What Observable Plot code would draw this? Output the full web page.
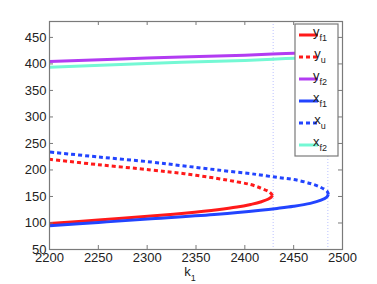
<!DOCTYPE html>
<html><head><meta charset="utf-8">
<script src="https://cdn.jsdelivr.net/npm/d3@7"></script>
<script src="https://cdn.jsdelivr.net/npm/@observablehq/plot@0.6"></script>
<style>body{margin:0;background:#fff}</style>
</head><body><div id="chart"></div>
<script>
const xTicks = [2200, 2250, 2300, 2350, 2400, 2450, 2500];
const yTicks = [50, 100, 150, 200, 250, 300, 350, 400, 450];
const foldK = [2429, 2485];

const yf1K = [2200, 2250, 2304, 2338, 2372, 2392, 2406, 2416, 2425, 2428.5];
const yf1V = [99, 105.5, 113, 118.5, 125, 130, 135, 139.5, 146, 152];
const yuK = [2428.5, 2425, 2416, 2406, 2392, 2372, 2338, 2304, 2250, 2200];
const yuV = [152, 158.5, 166, 172.5, 177.5, 184, 193, 200, 210, 220];
const yf2K = [2200, 2300, 2400, 2442, 2485];
const yf2V = [404.5, 411, 416.5, 419.5, 422];
const xf1K = [2200, 2250, 2304, 2372, 2416, 2433, 2450, 2467, 2478, 2484, 2485.5];
const xf1V = [95, 101, 108, 116.5, 124, 127.5, 131.5, 137, 143, 149, 154];
const xuK = [2485.5, 2484.5, 2478, 2467, 2450, 2433, 2416, 2406, 2372, 2338, 2304, 2250, 2200];
const xuV = [154, 159, 167, 174.5, 182, 186, 190.5, 193, 200, 207.5, 215, 224.5, 234];
const xf2K = [2200, 2300, 2400, 2442, 2485];
const xf2V = [393.5, 401, 406.5, 410, 413];

const series = [
  {main: "y", sub: "f1", k: yf1K, v: yf1V, color: "#ff1a1a", dash: null},
  {main: "y", sub: "u", k: yuK, v: yuV, color: "#ff1a1a", dash: "4,3"},
  {main: "y", sub: "f2", k: yf2K, v: yf2V, color: "#b23cf2", dash: null},
  {main: "x", sub: "f1", k: xf1K, v: xf1V, color: "#2244ff", dash: null},
  {main: "x", sub: "u", k: xuK, v: xuV, color: "#2244ff", dash: "4,3"},
  {main: "x", sub: "f2", k: xf2K, v: xf2V, color: "#74f8d4", dash: null}
];

const font = "'Liberation Sans', Arial, Helvetica, sans-serif";
const lineMarks = series.map(s => Plot.line(s.k.map((k, i) => ({k, v: s.v[i]})), {
  x: "k", y: "v", stroke: s.color, strokeWidth: 3, strokeDasharray: s.dash,
  strokeLinecap: "butt", curve: "catmull-rom"
}));

const plot = Plot.plot({
  width: 377, height: 284,
  marginLeft: 49, marginRight: 35, marginTop: 21, marginBottom: 35,
  style: {fontFamily: font, fontSize: "13px", color: "#222", background: "#fff"},
  x: {domain: [2200, 2500]},
  y: {domain: [50, 480]},
  marks: [
    Plot.ruleX(foldK, {stroke: "#aab3ff", strokeWidth: 0.8, strokeDasharray: "1,2"}),
    ...lineMarks,
    Plot.frame({stroke: "#7a7a7a", strokeWidth: 1.2}),
    Plot.ruleX(xTicks, {x: d => d, y1: 50, y2: 50, insetTop: -4, stroke: "#7a7a7a"}),
    Plot.ruleX(xTicks, {x: d => d, y1: 480, y2: 480, insetBottom: -4, stroke: "#7a7a7a"}),
    Plot.ruleY(yTicks, {y: d => d, x1: 2200, x2: 2200, insetRight: -4, stroke: "#7a7a7a"}),
    Plot.ruleY(yTicks, {y: d => d, x1: 2500, x2: 2500, insetLeft: -4, stroke: "#7a7a7a"}),
    Plot.axisX({ticks: xTicks, tickSize: 0, tickPadding: 3, tickFormat: d => String(d), label: null, fontSize: 13}),
    Plot.axisY({ticks: yTicks, tickSize: 0, tickPadding: 3, tickFormat: d => String(d), label: null, fontSize: 13})
  ]
});
document.getElementById("chart").appendChild(plot);

const svg = d3.select(plot);
// x-axis label k1
const xl = svg.append("text").attr("x", 190).attr("y", 276)
  .attr("font-family", font).attr("font-size", 13).attr("fill", "#222");
xl.append("tspan").text("k");
xl.append("tspan").attr("font-size", 9).attr("dy", 5).text("1");

// legend
const lg = svg.append("g");
lg.append("rect").attr("x", 295).attr("y", 24).attr("width", 43).attr("height", 132)
  .attr("fill", "#fff").attr("stroke", "#7a7a7a").attr("stroke-width", 1.2);
const rowY = [35, 57, 79, 101, 123, 145];
series.forEach((s, i) => {
  const y = rowY[i];
  lg.append("line").attr("x1", 299).attr("x2", 318).attr("y1", y).attr("y2", y)
    .attr("stroke", s.color).attr("stroke-width", 3)
    .attr("stroke-dasharray", s.dash || null);
  const t = lg.append("text").attr("x", 320).attr("y", y + 1)
    .attr("font-family", font).attr("font-size", 13).attr("fill", "#222");
  t.append("tspan").text(s.main);
  t.append("tspan").attr("font-size", 9).attr("dy", 5).text(s.sub);
});
</script>
</body></html>
